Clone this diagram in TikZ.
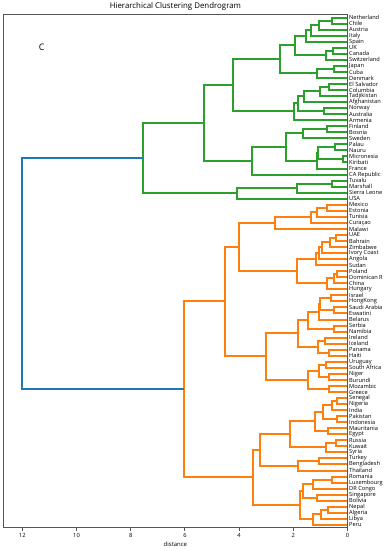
\documentclass[tikz,border=0pt]{standalone}
\usepackage{fontspec}
\setmainfont{Open Sans}
\usetikzlibrary{calc}
\definecolor{cg}{HTML}{2CA02C}
\definecolor{co}{HTML}{FF7F0E}
\definecolor{cb}{HTML}{1F77B4}
\definecolor{frm}{HTML}{555555}
\newcommand\mrg[5]{%
  \path let \p1=(#2), \p2=(#3) in
    coordinate (#1) at ({round(347.5-27.1*(#4))*1bp},{round((\y1+\y2)/(2bp))*1bp});
  \draw[link,#5] (#2) -| (#1) |- (#3);
}
\begin{document}
\begin{tikzpicture}[x=1bp,y=-1bp,
  link/.style={line width=2bp},
  leaf/.style={anchor=west,inner sep=0pt,font=\fontsize{5.7}{6}\selectfont},
  ticklab/.style={anchor=center,inner sep=0pt,font=\fontsize{5.8}{6}\selectfont},
  frame/.style={draw=frm,line width=1bp}]
\useasboundingbox[fill=white] (0,0) rectangle (384,550);
\foreach \nm [count=\i] in {Netherland,Chile,Austria,Italy,Spain,UK,Canada,Switzerland,Japan,Cuba,Denmark,El Salvador,Columbia,Tadjikistan,Afghanistan,Norway,Australia,Armenia,Finland,Bosnia,Sweden,Palau,Nauru,Micronesia,Kiribati,France,CA Republic,Tuvalu,Marshall,Sierra Leone,USA,Mexico,Estonia,Tunisia,Curaçao,Malawi,UAE,Bahrain,Zimbabwe,Ivory Coast,Angola,Sudan,Poland,Dominican R,China,Hungary,Israel,HongKong,Saudi Arabia,Eswatini,Belarus,Serbia,Namibia,Ireland,Iceland,Panama,Haiti,Uruguay,South Africa,Niger,Burundi,Mozambic,Greece,Senegal,Nigeria,India,Pakistan,Indonesia,Mauritania,Egypt,Russia,Kuwait,Syria,Turkey,Bengladesh,Thailand,Romania,Luxembourg,DR Congo,Singapore,Bolivia,Nepal,Algeria,Libya,Peru}{
  \coordinate (l\i) at (347.5,{round(17.52+6.04*(\i-1))});
  \node[leaf] (t\i) at (349,{17.52+6.04*(\i-1)}) {\nm};
}
% green cluster
\mrg{n1}{l1}{l2}{0.58}{cg}
\mrg{n2}{n1}{l3}{1.07}{cg}
\mrg{n3}{n2}{l4}{1.34}{cg}
\mrg{n4}{n3}{l5}{1.52}{cg}
\mrg{n5}{l6}{l7}{0.55}{cg}
\mrg{n6}{n5}{l8}{0.80}{cg}
\mrg{n7}{n4}{n6}{1.95}{cg}
\mrg{n8}{l9}{l10}{0.50}{cg}
\mrg{n9}{n8}{l11}{1.13}{cg}
\mrg{n10}{n7}{n9}{2.50}{cg}
\mrg{n11}{l12}{l13}{0.70}{cg}
\mrg{n12}{n11}{l14}{1.01}{cg}
\mrg{n13}{n12}{l15}{1.62}{cg}
\mrg{n14}{l16}{l17}{0.87}{cg}
\mrg{n15}{n13}{n14}{1.81}{cg}
\mrg{n16}{n15}{l18}{1.97}{cg}
\mrg{n17}{n10}{n16}{4.22}{cg}
\mrg{n18}{l19}{l20}{0.77}{cg}
\mrg{n19}{n18}{l21}{1.65}{cg}
\mrg{n20}{l22}{l23}{0.46}{cg}
\mrg{n21}{l24}{l25}{0.18}{cg}
\mrg{n22}{n20}{n21}{1.08}{cg}
\mrg{n23}{n22}{l26}{1.12}{cg}
\mrg{n24}{n19}{n23}{2.27}{cg}
\mrg{n25}{n24}{l27}{3.52}{cg}
\mrg{n26}{n17}{n25}{5.30}{cg}
\mrg{n27}{l28}{l29}{0.57}{cg}
\mrg{n28}{n27}{l30}{1.87}{cg}
\mrg{n29}{n28}{l31}{4.07}{cg}
\mrg{G}{n26}{n29}{7.53}{cg}
% orange cluster
\mrg{o1}{l32}{l33}{0.74}{co}
\mrg{o2}{o1}{l34}{1.13}{co}
\mrg{o3}{o2}{l35}{1.34}{co}
\mrg{o4}{o3}{l36}{2.67}{co}
\mrg{o5}{l37}{l38}{0.42}{co}
\mrg{o6}{o5}{l39}{0.64}{co}
\mrg{o7}{o6}{l40}{0.95}{co}
\mrg{o8}{o7}{l41}{1.04}{co}
\mrg{o9}{o8}{l42}{1.16}{co}
\mrg{o10}{l43}{l44}{0.40}{co}
\mrg{o11}{o10}{l45}{0.50}{co}
\mrg{o12}{o11}{l46}{0.77}{co}
\mrg{o13}{o9}{o12}{1.87}{co}
\mrg{o14}{o4}{o13}{4.01}{co}
\mrg{o15}{l47}{l48}{0.62}{co}
\mrg{o16}{l49}{l50}{0.50}{co}
\mrg{o17}{o15}{o16}{1.02}{co}
\mrg{o18}{o17}{l51}{1.06}{co}
\mrg{o19}{l52}{l53}{0.48}{co}
\mrg{o20}{o18}{o19}{1.44}{co}
\mrg{o21}{l54}{l55}{0.83}{co}
\mrg{o22}{l56}{l57}{0.67}{co}
\mrg{o23}{o21}{o22}{1.10}{co}
\mrg{o24}{o20}{o23}{1.84}{co}
\mrg{o25}{l58}{l59}{0.80}{co}
\mrg{o26}{l60}{l61}{0.70}{co}
\mrg{o27}{o25}{o26}{1.04}{co}
\mrg{o28}{l62}{l63}{0.70}{co}
\mrg{o29}{o27}{o28}{1.46}{co}
\mrg{o30}{o24}{o29}{3.00}{co}
\mrg{o31}{o14}{o30}{4.53}{co}
\mrg{o32}{l64}{l65}{0.37}{co}
\mrg{o33}{o32}{l66}{0.58}{co}
\mrg{o34}{l67}{l68}{0.40}{co}
\mrg{o35}{o33}{o34}{0.89}{co}
\mrg{o36}{l69}{l70}{0.73}{co}
\mrg{o37}{o35}{o36}{1.19}{co}
\mrg{o38}{l71}{l72}{0.43}{co}
\mrg{o39}{o38}{l73}{0.80}{co}
\mrg{o40}{o37}{o39}{2.14}{co}
\mrg{o41}{l74}{l75}{1.07}{co}
\mrg{o42}{o41}{l76}{1.81}{co}
\mrg{o43}{o40}{o42}{3.24}{co}
\mrg{o44}{l77}{l78}{0.56}{co}
\mrg{o45}{o44}{l79}{1.28}{co}
\mrg{o46}{l80}{l81}{1.13}{co}
\mrg{o47}{o45}{o46}{1.65}{co}
\mrg{o48}{l82}{l83}{0.73}{co}
\mrg{o49}{o48}{l84}{0.99}{co}
\mrg{o50}{o49}{l85}{1.28}{co}
\mrg{o51}{o47}{o50}{1.77}{co}
\mrg{o52}{o43}{o51}{3.49}{co}
\mrg{O}{o31}{o52}{6.04}{co}
% root
\mrg{B}{G}{O}{12.0}{cb}
% frame and axis
\draw[frame] (3.5,14.5) rectangle (347.5,527.5);
\foreach \v in {0,2,...,12}{
  \draw[frm,line width=1bp] ({round(347.5-27.1*\v-0.5)+0.5},527.5) -- ({round(347.5-27.1*\v-0.5)+0.5},531);
  \node[ticklab] (k\v) at ({347.5-27.1*\v},535.8) {\v};
}
\node[inner sep=0pt,font=\fontsize{6}{7}\selectfont] (xl) at (175.4,544.6) {distance};
\node[inner sep=0pt,font=\fontsize{7.9}{9}\selectfont] (title) at (175.4,6) {Hierarchical Clustering Dendrogram};
\node[inner sep=0pt,font=\fontsize{9}{10}\selectfont] (lab) at (41.7,47.3) {C};
\end{tikzpicture}
\end{document}
